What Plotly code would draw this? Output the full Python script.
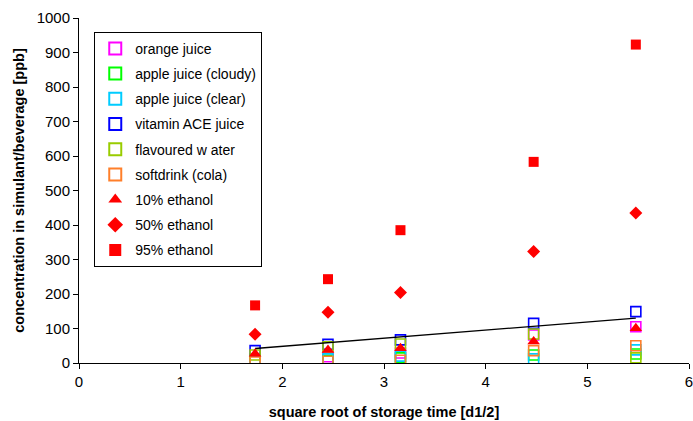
import plotly.graph_objects as go

x = [1.732, 2.449, 3.162, 4.472, 5.477]

orange_juice = [12, 18, 29, 81, 105]
apple_cloudy = [9, 8, 15, 23, 26]
apple_clear = [6, 12, 20, 12, 38]
vitamin_ace = [36, 54, 67, 115, 149]
flavoured_water = [23, 47, 55, 84, 15]
softdrink = [3, 5, 8, 36, 50]
eth10 = [27, 38, 43, 62, 101]
eth50 = [83, 147, 204, 323, 435]
eth95 = [167, 243, 385, 583, 923]

trend_x = [1.732, 5.477]
trend_y = [42, 130]

open_series = [
    ("orange juice", orange_juice, "#FF00FF"),
    ("apple juice (cloudy)", apple_cloudy, "#00FF00"),
    ("apple juice (clear)", apple_clear, "#00CCFF"),
    ("vitamin ACE juice", vitamin_ace, "#0000FF"),
    ("flavoured w ater", flavoured_water, "#99CC00"),
    ("softdrink (cola)", softdrink, "#FF7F2A"),
]

fig = go.Figure()
for i, (name, vals, col) in enumerate(open_series):
    fig.add_trace(go.Scatter(
        x=x, y=vals, mode="markers", name=name, legendgroup=f"g{i}",
        marker=dict(symbol="square-open", size=10, color=col, line=dict(width=1.6, color=col)),
    ))

fig.add_trace(go.Scatter(
    x=trend_x, y=trend_y, mode="lines", showlegend=False,
    line=dict(color="black", width=1.3),
))

filled = [
    ("10% ethanol", eth10, "triangle-up", 11),
    ("50% ethanol", eth50, "diamond", 10),
    ("95% ethanol", eth95, "square", 10),
]
for j, (name, vals, sym, sz) in enumerate(filled):
    fig.add_trace(go.Scatter(
        x=x, y=vals, mode="markers", name=name, legendgroup=f"f{j}",
        marker=dict(symbol=sym, size=sz, color="#FF0000", line=dict(width=0)),
    ))

axis_font = dict(family="Liberation Sans, Arial, sans-serif", size=15, color="black")
fig.update_layout(
    width=693, height=421,
    margin=dict(l=79, r=4, t=18, b=58, autoexpand=False),
    paper_bgcolor="white", plot_bgcolor="white",
    font=axis_font,
    xaxis=dict(
        range=[0, 6], dtick=1, showgrid=False, zeroline=False, automargin=False,
        showline=True, linecolor="black", linewidth=1,
        ticks="outside", ticklen=5, tickcolor="black", ticklabeloverflow="allow",
        title=dict(text="<b>square root of storage time [d1/2]</b>", standoff=17,
                   font=dict(size=14.5)),
    ),
    yaxis=dict(
        range=[0, 1000], dtick=100, showgrid=False, zeroline=False, automargin=False,
        showline=True, linecolor="black", linewidth=1,
        ticks="outside", ticklen=5, tickcolor="black",
        title=dict(text="<b>concentration in simulant/beverage [ppb]</b>", standoff=8,
                   font=dict(size=14.5)),
    ),
    legend=dict(
        x=0.025, y=0.96, xanchor="left", yanchor="top",
        bordercolor="black", borderwidth=1, bgcolor="white",
        font=dict(size=14), tracegroupgap=4, itemsizing="constant", itemwidth=30,
    ),
)

fig.write_html(
    "out.html",
    config={"displayModeBar": False},
    post_script="document.body.style.margin='0';document.body.style.overflow='hidden';",
)
